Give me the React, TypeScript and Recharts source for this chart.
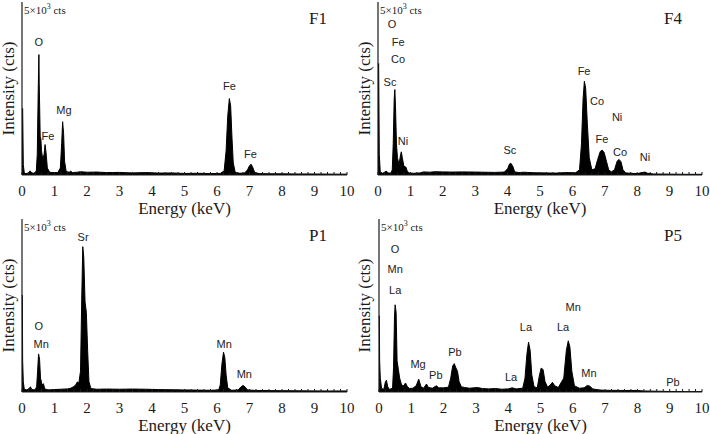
import React from 'react';
import {
  AreaChart,
  Area,
  XAxis,
  YAxis,
  ReferenceDot,
} from 'recharts';

// spectra: [energy keV, counts]
const f1Spectrum: [number, number][] = [
  [0, 1900], [0.02, 1920], [0.04, 300], [0.07, 60], [0.12, 40], [0.2, 60], [0.25, 120], [0.3, 60],
  [0.38, 50], [0.44, 120], [0.47, 600], [0.5, 2500], [0.52, 3480], [0.53, 2650], [0.56, 1100],
  [0.58, 1050], [0.6, 700], [0.64, 450], [0.68, 600], [0.71, 880], [0.74, 650], [0.78, 200],
  [0.85, 80], [0.95, 70], [1.1, 70], [1.18, 200], [1.22, 900], [1.25, 1540], [1.28, 1200],
  [1.31, 400], [1.36, 100], [1.45, 80], [1.5, 110], [1.55, 70], [1.7, 80], [1.8, 95], [2.0, 80],
  [2.3, 85], [2.6, 70], [3.0, 75], [3.4, 60], [3.8, 70], [4.2, 55], [4.6, 60], [5.0, 45],
  [5.4, 50], [5.8, 40], [6.1, 45], [6.22, 120], [6.28, 700], [6.33, 1700], [6.38, 2210],
  [6.42, 2000], [6.46, 1100], [6.5, 350], [6.56, 80], [6.7, 50], [6.85, 60], [6.94, 150],
  [7.0, 270], [7.05, 310], [7.1, 220], [7.16, 70], [7.3, 40], [7.6, 35], [8.0, 35], [8.4, 30],
  [8.8, 30], [9.2, 28], [9.6, 25], [10, 25],
];

const f4Spectrum: [number, number][] = [
  [0, 3200], [0.02, 3220], [0.04, 600], [0.07, 80], [0.15, 50], [0.25, 110], [0.32, 60],
  [0.4, 50], [0.44, 150], [0.47, 900], [0.5, 2200], [0.52, 2470], [0.54, 2000], [0.57, 900],
  [0.6, 500], [0.65, 300], [0.69, 550], [0.72, 670], [0.75, 500], [0.8, 250], [0.86, 230],
  [0.9, 120], [0.95, 60], [1.1, 50], [1.3, 60], [1.4, 90], [1.6, 80], [1.75, 95], [2.0, 90],
  [2.3, 85], [2.6, 90], [3.0, 85], [3.3, 80], [3.6, 75], [3.9, 85], [4.0, 180], [4.06, 320],
  [4.1, 340], [4.16, 250], [4.22, 90], [4.35, 70], [4.5, 80], [4.8, 65], [5.2, 60], [5.5, 55],
  [5.8, 70], [6.1, 65], [6.22, 150], [6.28, 900], [6.33, 2200], [6.37, 2710], [6.41, 2500],
  [6.46, 1500], [6.52, 500], [6.6, 150], [6.7, 180], [6.78, 450], [6.86, 680], [6.92, 720],
  [6.98, 650], [7.05, 400], [7.12, 150], [7.2, 90], [7.3, 150], [7.38, 400], [7.44, 450],
  [7.5, 380], [7.56, 150], [7.65, 60], [7.8, 50], [8.0, 40], [8.15, 70], [8.24, 85],
  [8.32, 50], [8.5, 30], [9.0, 25], [9.5, 20], [10, 20],
];

const p1Spectrum: [number, number][] = [
  [0, 2790], [0.01, 2800], [0.02, 900], [0.04, 300], [0.07, 80], [0.15, 60], [0.22, 100],
  [0.26, 150], [0.3, 70], [0.4, 60], [0.45, 150], [0.48, 600], [0.51, 1100], [0.54, 950],
  [0.57, 400], [0.62, 200], [0.66, 240], [0.7, 90], [0.8, 60], [1.0, 70], [1.2, 80], [1.4, 90],
  [1.5, 110], [1.58, 150], [1.65, 200], [1.7, 290], [1.75, 260], [1.8, 600], [1.84, 2800],
  [1.87, 4200], [1.9, 3900], [1.94, 2600], [1.98, 2300], [2.02, 1200], [2.06, 300], [2.12, 100],
  [2.3, 80], [2.6, 85], [3.0, 80], [3.4, 85], [3.8, 80], [4.2, 70], [4.6, 65], [5.0, 60],
  [5.4, 55], [5.8, 50], [6.05, 60], [6.1, 200], [6.15, 800], [6.2, 1150], [6.24, 1000],
  [6.28, 500], [6.33, 120], [6.45, 50], [6.65, 60], [6.74, 150], [6.8, 190], [6.86, 150],
  [6.94, 60], [7.2, 45], [7.6, 40], [8.0, 38], [8.5, 35], [9.0, 32], [9.5, 30], [10, 30],
];

const p5Spectrum: [number, number][] = [
  [0, 2180], [0.01, 2200], [0.02, 900], [0.04, 400], [0.08, 100], [0.15, 80], [0.2, 300],
  [0.23, 340], [0.27, 150], [0.33, 70], [0.42, 120], [0.45, 700], [0.48, 2200], [0.5, 2520],
  [0.53, 2300], [0.56, 900], [0.6, 650], [0.64, 400], [0.7, 200], [0.76, 180], [0.82, 260],
  [0.88, 150], [0.95, 100], [1.05, 110], [1.15, 180], [1.23, 370], [1.3, 150], [1.38, 110],
  [1.47, 230], [1.53, 130], [1.65, 110], [1.78, 180], [1.85, 120], [2.0, 120], [2.15, 140],
  [2.22, 400], [2.28, 750], [2.33, 820], [2.38, 700], [2.43, 600], [2.48, 300], [2.55, 150],
  [2.65, 130], [2.8, 110], [3.05, 130], [3.2, 100], [3.4, 90], [3.6, 100], [3.8, 80], [4.0, 90],
  [4.12, 120], [4.25, 90], [4.45, 110], [4.52, 400], [4.58, 1100], [4.63, 1440], [4.68, 1200],
  [4.73, 500], [4.8, 150], [4.9, 120], [4.96, 450], [5.02, 690], [5.08, 650], [5.14, 300],
  [5.22, 140], [5.3, 200], [5.37, 280], [5.44, 180], [5.55, 130], [5.72, 400], [5.8, 1200],
  [5.86, 1480], [5.91, 1300], [5.97, 600], [6.05, 180], [6.2, 110], [6.35, 120], [6.45, 190],
  [6.52, 170], [6.62, 90], [6.8, 60], [7.0, 50], [7.5, 45], [8.0, 45], [8.2, 30], [8.5, 25],
  [9.0, 15], [9.5, 10], [10, 10],
];

// peak labels: [element, energy keV, counts level of label]
const f1Peaks: [string, number, number][] = [
  ['O', 0.52, 3840], ['Fe', 0.8, 1130], ['Mg', 1.29, 1880], ['Fe', 6.38, 2570], ['Fe', 7.03, 610],
];
const f4Peaks: [string, number, number][] = [
  ['O', 0.43, 4360], ['Fe', 0.62, 3840], ['Co', 0.62, 3350], ['Sc', 0.37, 2690], ['Ni', 0.77, 980],
  ['Sc', 4.07, 720], ['Fe', 6.36, 3010], ['Co', 6.76, 2140], ['Ni', 7.38, 1680], ['Fe', 6.91, 1040],
  ['Co', 7.47, 665], ['Ni', 8.24, 520],
];
const p1Peaks: [string, number, number][] = [
  ['Sr', 1.88, 4480], ['O', 0.52, 1910], ['Mn', 0.59, 1390], ['Mn', 6.22, 1390], ['Mn', 6.84, 520],
];
const p5Peaks: [string, number, number][] = [
  ['O', 0.5, 4130], ['Mn', 0.5, 3555], ['La', 0.5, 2950], ['Mn', 6.01, 2460], ['La', 4.55, 1880],
  ['La', 5.7, 1880], ['Pb', 2.35, 1160], ['Mg', 1.21, 810], ['Pb', 1.76, 490], ['La', 4.09, 435],
  ['Mn', 6.5, 550], ['Pb', 9.1, 290],
];

const majorTicks = [0, 1, 2, 3, 4, 5, 6, 7, 8, 9, 10];
const allTicks = Array.from({ length: 51 }, (_, i) => Math.round(i * 2) / 10);

const serif = '"Liberation Serif", "Times New Roman", serif';
const sans = '"Liberation Sans", Arial, sans-serif';
const ink = '#1a1a1a';

interface PanelProps {
  name: string;
  spectrum: [number, number][];
  peaks: [string, number, number][];
  left: number;
  top: number;
  axisWidth: number;
}

function Panel({ name, spectrum, peaks, left, top, axisWidth }: PanelProps) {
  const data = spectrum.map(([e, c]) => ({ e, c }));
  return (
    <div style={{ position: 'absolute', left, top, width: 355, height: 217 }}>
      <AreaChart width={355} height={221} data={data} margin={{ top: 2, right: 8, left: 0, bottom: 0 }}>
        <XAxis
          type="number"
          dataKey="e"
          domain={[0, 10]}
          ticks={allTicks}
          interval={0}
          tickFormatter={(v: number) => (majorTicks.includes(v) ? String(v) : '')}
          tickSize={-3}
          tickMargin={13}
          height={46}
          axisLine={{ stroke: ink, strokeWidth: 1.2 }}
          tickLine={{ stroke: ink }}
          tick={{ fill: ink, fontSize: 15, fontFamily: serif }}
          label={{ value: 'Energy (keV)', position: 'center', dy: 10, fill: ink, fontSize: 17, fontFamily: serif }}
        />
        <XAxis xAxisId="top" orientation="top" type="number" domain={[0, 10]} height={0} tick={false} tickLine={false} axisLine={{ stroke: ink, strokeWidth: 1.2 }} />
        <YAxis
          type="number"
          domain={[0, 5000]}
          allowDataOverflow
          width={axisWidth}
          tick={false}
          tickLine={false}
          axisLine={{ stroke: ink, strokeWidth: 1.2 }}
          label={{ value: 'Intensity (cts)', angle: -90, position: 'center', dx: -3, fill: ink, fontSize: 17, fontFamily: serif }}
        />
        <YAxis yAxisId="right" orientation="right" type="number" domain={[0, 5000]} width={0} tick={false} tickLine={false} axisLine={{ stroke: ink, strokeWidth: 1.2 }} />
        <Area
          type="linear"
          dataKey="c"
          stroke="#000"
          strokeWidth={1}
          fill="#000"
          fillOpacity={1}
          isAnimationActive={false}
          dot={false}
          activeDot={false}
        />
        {peaks.map(([el, e, c], i) => (
          <ReferenceDot
            key={i}
            x={e}
            y={c}
            r={0}
            fill="none"
            stroke="none"
            ifOverflow="visible"
            label={{ value: el, position: 'center', fill: '#222', fontSize: 11, fontFamily: sans }}
          />
        ))}
      </AreaChart>
      <div style={{ position: 'absolute', left: axisWidth + 2, top: 1, fontFamily: serif, fontSize: 11, color: ink, lineHeight: '12px' }}>
        5×10<sup style={{ fontSize: 8 }}>3</sup> cts
      </div>
      <div style={{ position: 'absolute', right: 28, top: 9, fontFamily: serif, fontSize: 17, color: ink, lineHeight: '20px' }}>
        {name}
      </div>
    </div>
  );
}

export default function App() {
  return (
    <div style={{ position: 'absolute', left: 0, top: 0, width: 710, height: 434, background: '#fff', overflow: 'hidden' }}>
      <Panel name="F1" spectrum={f1Spectrum} peaks={f1Peaks} left={0} top={0} axisWidth={22} />
      <Panel name="F4" spectrum={f4Spectrum} peaks={f4Peaks} left={355} top={0} axisWidth={23} />
      <Panel name="P1" spectrum={p1Spectrum} peaks={p1Peaks} left={0} top={217} axisWidth={22} />
      <Panel name="P5" spectrum={p5Spectrum} peaks={p5Peaks} left={355} top={217} axisWidth={24} />
    </div>
  );
}
